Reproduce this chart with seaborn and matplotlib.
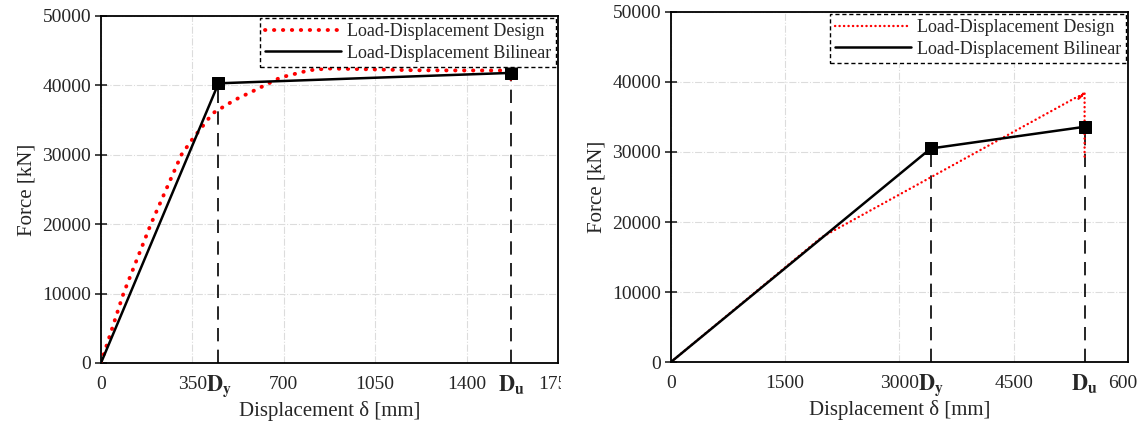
import numpy as np
import pandas as pd
import matplotlib.pyplot as plt
import seaborn as sns
from matplotlib.transforms import Bbox, TransformedBbox

# left panel
left_design_x = [0, 86, 191, 308, 348, 428, 512, 589, 687, 798, 868, 1007, 1200, 1400, 1565, 1570]
left_design_y = [0, 10000, 20000, 30000, 32140, 35980, 37900, 39300, 41130, 42180, 42430, 42330, 42180, 42150, 42150, 40700]
left_bilin_x = [0, 450, 1570]
left_bilin_y = [0, 40300, 41800]
left_xticks = [0, 350, 700, 1050, 1400, 1750]

# right panel
right_design_x = [0, 1975, 5320, 5385, 5340, 5415, 5365, 5430, 5430]
right_design_y = [0, 17800, 37800, 38100, 37500, 38300, 37700, 38600, 29000]
right_bilin_x = [0, 3410, 5430]
right_bilin_y = [0, 30500, 33600]
right_xticks = [0, 1500, 3000, 4500, 6000]

yticks = [0, 10000, 20000, 30000, 40000, 50000]

sns.set_style('white')
plt.rcParams['font.family'] = ['Liberation Serif', 'DejaVu Serif']
plt.rcParams['mathtext.fontset'] = 'stix'

fig = plt.figure(figsize=(11.37, 4.25), dpi=100)
ax1 = fig.add_axes([0.0888, 0.1459, 0.4020, 0.8165])
ax2 = fig.add_axes([0.5901, 0.1482, 0.4020, 0.8236])


def panel(ax, dx, dy, bx, by, xticks, xmax, design_lw, design_dash):
    sns.lineplot(x=dx, y=dy, sort=False, estimator=None, ax=ax, color='red',
                 lw=design_lw, label='Load-Displacement Design', zorder=3)
    red = ax.lines[-1]
    red.set_dashes(design_dash)
    red.set_dash_capstyle('round')
    sns.lineplot(x=bx, y=by, sort=False, estimator=None, ax=ax, color='black',
                 lw=1.8, label='Load-Displacement Bilinear', zorder=4)
    sns.scatterplot(x=bx[1:], y=by[1:], ax=ax, marker='s', s=80, color='black',
                    edgecolor='black', zorder=5)
    for xv, yv in zip(bx[1:], by[1:]):
        ax.plot([xv, xv], [0, yv], color='black', lw=1.2, ls=(0, (8, 5)), zorder=2)

    ax.set_xlim(0, xmax)
    ax.set_ylim(0, 50000)
    ax.set_xticks(xticks)
    ax.set_xticklabels([str(t) for t in xticks])
    ax.set_yticks(yticks)
    ax.set_xticks(bx[1:], minor=True)
    ax.set_xticklabels([r'$\mathbf{D_y}$', r'$\mathbf{D_u}$'], minor=True)
    ax.grid(True, which='major', color='#dcdcdc', ls='-.', lw=0.8)
    ax.tick_params(axis='x', which='both', direction='inout', length=9, width=1.2,
                   labelsize=14, pad=5)
    ax.tick_params(axis='x', which='minor', labelsize=16, pad=3)
    ax.tick_params(axis='y', direction='inout', length=8, width=1.2, labelsize=14,
                   left=True, pad=3)
    for sp in ax.spines.values():
        sp.set_color('black')
        sp.set_linewidth(1.3)
    ax.set_xlabel('Displacement δ [mm]', fontsize=15, labelpad=1)
    ax.set_ylabel('Force [kN]', fontsize=15, labelpad=4)

    leg = ax.legend(loc='upper right', bbox_to_anchor=(1.0, 1.0), fontsize=13,
                    fancybox=False, framealpha=1, borderaxespad=0.1,
                    handlelength=4.2, handletextpad=0.3, labelspacing=0.25,
                    borderpad=0.3)
    leg.get_lines()[0].set_dash_capstyle('round')
    frame = leg.get_frame()
    frame.set_edgecolor('black')
    frame.set_linestyle((0, (3, 2)))
    frame.set_linewidth(1.0)


panel(ax1, left_design_x, left_design_y, left_bilin_x, left_bilin_y, left_xticks, 1750,
      2.8, (0.1, 2.2))
panel(ax2, right_design_x, right_design_y, right_bilin_x, right_bilin_y, right_xticks, 6000,
      1.7, (0.1, 1.8))

# the source image cuts the last tick label of the left panel
clip = TransformedBbox(Bbox([[0, 0], [0.493, 1]]), fig.transFigure)
for lab in ax1.get_xticklabels():
    lab.set_clip_box(clip)
    lab.set_clip_on(True)

fig.savefig('out.png', dpi=100)
